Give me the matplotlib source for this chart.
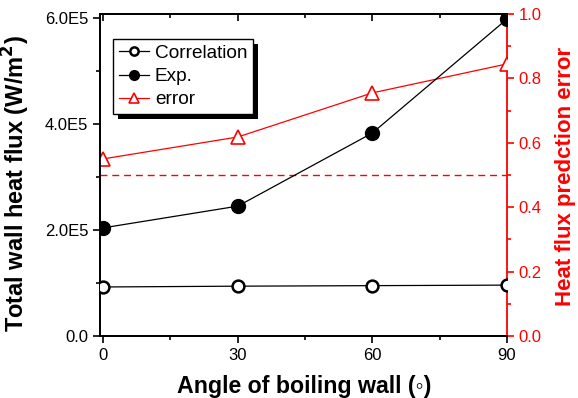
import matplotlib
matplotlib.use("Agg")
import matplotlib.pyplot as plt
import matplotlib.patheffects as pe
from matplotlib.ticker import MultipleLocator, FuncFormatter

plt.rcParams['font.family'] = ['Liberation Sans', 'DejaVu Sans']

angles = [0, 30, 60, 90]
correlation = [0.925e5, 0.94e5, 0.95e5, 0.96e5]
experiment = [2.04e5, 2.45e5, 3.83e5, 5.98e5]
error = [0.55, 0.618, 0.755, 0.845]
threshold = 0.5

fig = plt.figure(figsize=(5.78, 3.98), dpi=100)
ax = fig.add_axes([100/578, 1-336/398, 407/578, 322/398])
ax2 = ax.twinx()

l1, = ax.plot(angles, correlation, color='black', lw=0.9, marker='o', ms=8.5,
              mfc='white', mec='black', mew=1.8, label='Correlation', zorder=3)
l2, = ax.plot(angles, experiment, color='black', lw=0.9, marker='o', ms=10,
              mfc='black', mec='black', label='Exp.', zorder=3)
l3, = ax2.plot(angles, error, color='red', lw=0.9, marker='^', ms=10,
               mfc='white', mec='red', mew=1.2, label='error', zorder=3)
ax2.axhline(threshold, color='red', lw=1.0, ls=(0, (5, 3.5)))

ax.set_xlim(-0.7, 90)
ax.set_ylim(0, 6.075e5)
ax2.set_ylim(0, 1.0)

ax.xaxis.set_major_locator(MultipleLocator(30))
ax.xaxis.set_minor_locator(MultipleLocator(15))
ax.yaxis.set_major_locator(MultipleLocator(2e5))
ax.yaxis.set_minor_locator(MultipleLocator(1e5))
ax2.yaxis.set_major_locator(MultipleLocator(0.2))
ax2.yaxis.set_minor_locator(MultipleLocator(0.1))

def sci(v, pos):
    if v == 0:
        return '0.0'
    e = 5
    return f'{v/10**e:.1f}E{e}'
ax.yaxis.set_major_formatter(FuncFormatter(sci))
ax2.yaxis.set_major_formatter(FuncFormatter(lambda v, p: f'{v:.1f}'))

for s in ['left', 'bottom', 'top']:
    ax.spines[s].set_linewidth(1.3)
    ax2.spines[s].set_linewidth(1.3)
ax2.spines['right'].set_color('red')
ax2.spines['right'].set_linewidth(1.3)
ax.spines['right'].set_visible(False)

ax.tick_params(axis='x', which='both', direction='out', top=True, labelsize=12, width=1.2)
ax.tick_params(axis='x', which='major', length=5)
ax.tick_params(axis='x', which='minor', length=3)
ax.tick_params(axis='y', which='both', direction='out', labelsize=12, width=1.2)
ax.tick_params(axis='y', which='major', length=5)
ax.tick_params(axis='y', which='minor', length=3)
ax2.tick_params(axis='y', which='both', direction='out', colors='red', labelsize=12, width=1.2)
ax2.tick_params(axis='y', which='major', length=5)
ax2.tick_params(axis='y', which='minor', length=3)
# top ticks point inward
for t in ax.xaxis.get_major_ticks() + ax.xaxis.get_minor_ticks():
    t.tick2line.set_marker(matplotlib.lines.TICKDOWN)

ax.set_xlabel('Angle of boiling wall (\u25e6)', fontsize=16.7, fontweight='bold')
ax.set_ylabel('Total wall heat flux (W/m$^\\mathbf{2}$)', fontsize=17, fontweight='bold')
ax2.set_ylabel('Heat flux predction error', fontsize=16, fontweight='bold', color='red')
ax.xaxis.set_label_coords(0.502, -0.121)
ax.yaxis.set_label_coords(-0.167, 0.474)
ax2.yaxis.set_label_coords(1.118, 0.494)

ax.set_zorder(ax2.get_zorder() + 1)
ax.patch.set_visible(False)

leg = ax.legend([l1, l2, l3], ['Correlation', 'Exp.', 'error'], loc='upper left',
                bbox_to_anchor=(0.032, 0.922), borderaxespad=0, fontsize=13.7,
                handlelength=1.6, handletextpad=0.3, markerscale=0.7,
                fancybox=False, edgecolor='black', framealpha=1,
                borderpad=0.3, labelspacing=0.3)
leg.get_frame().set_linewidth(1.0)
leg.get_frame().set_path_effects([pe.SimplePatchShadow(offset=(3.6, -3.6), shadow_rgbFace='black', alpha=1), pe.Normal()])

fig.savefig('out.png', dpi=100)
